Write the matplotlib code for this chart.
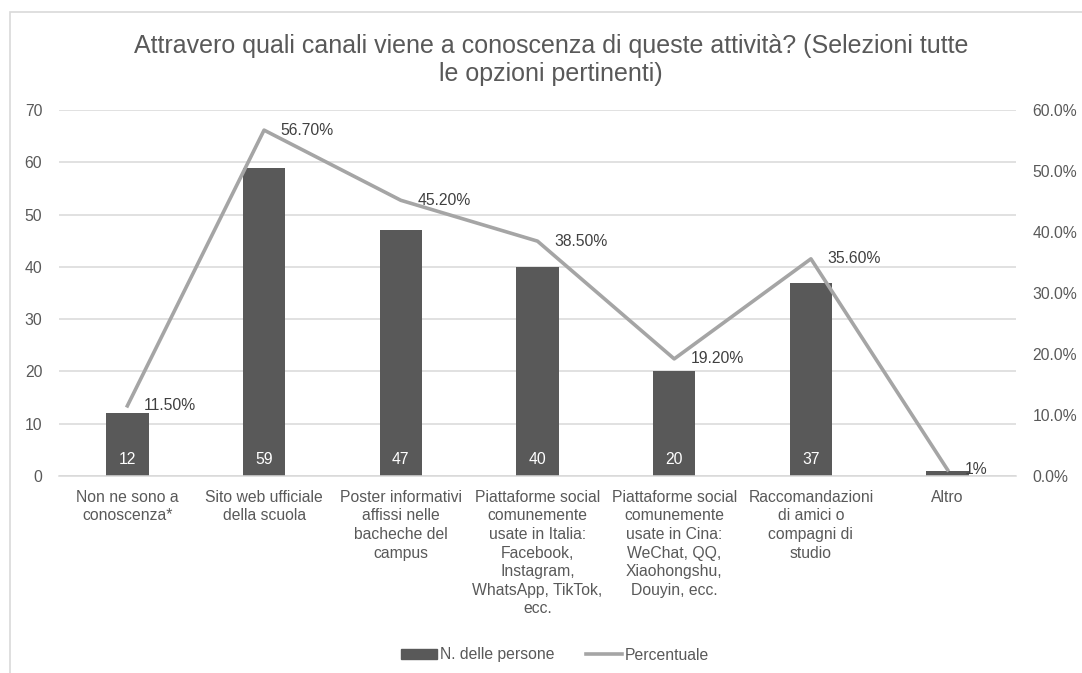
import numpy as np
import matplotlib.pyplot as plt
from matplotlib.patches import Rectangle
from matplotlib.lines import Line2D

plt.rcParams['font.family'] = ['Liberation Sans', 'DejaVu Sans']

# Survey data
categories = [
    'Non ne sono a\nconoscenza*',
    'Sito web ufficiale\ndella scuola',
    'Poster informativi\naffissi nelle\nbacheche del\ncampus',
    'Piattaforme social\ncomunemente\nusate in Italia:\nFacebook,\nInstagram,\nWhatsApp, TikTok,\necc.',
    'Piattaforme social\ncomunemente\nusate in Cina:\nWeChat, QQ,\nXiaohongshu,\nDouyin, ecc.',
    'Raccomandazioni\ndi amici o\ncompagni di\nstudio',
    'Altro',
]
people = [12, 59, 47, 40, 20, 37, 1]
percent = [0.115, 0.567, 0.452, 0.385, 0.192, 0.356, 0.01]
pct_decimals = [2, 2, 2, 2, 2, 2, 0]

bar_color = '#595959'
line_color = '#A5A5A5'
grid_color = '#D9D9D9'
text_color = '#595959'
label_color = '#404040'
fs = 11.3

fig = plt.figure(figsize=(10.82, 6.73), dpi=100)
fig.patches.append(Rectangle((10 / 1082, -0.1), 1.2, 1 - 12 / 673 + 0.1,
                             transform=fig.transFigure, fill=False,
                             edgecolor='#D9D9D9', linewidth=1.2))

ax = fig.add_axes([59 / 1082, 1 - 476 / 673, 957 / 1082, 366 / 673])
ax2 = ax.twinx()

x = np.arange(len(categories))
ax.bar(x, people, width=0.31, color=bar_color, zorder=2)
for xi, v in zip(x, people):
    if v >= 5:
        ax.text(xi, 3.2, str(v), ha='center', va='center', color='white',
                fontsize=fs, zorder=3)

ax2.plot(x, percent, color=line_color, linewidth=2.6, zorder=4)
for xi, p, d in zip(x, percent, pct_decimals):
    ax2.annotate(f'{p * 100:.{d}f}%', (xi, p), xytext=(12, 0),
                 textcoords='offset points', ha='left', va='center',
                 color=label_color, fontsize=fs)

ax.set_xlim(-0.5, len(categories) - 0.5)
ax.set_ylim(0, 70)
ax.set_yticks(range(0, 71, 10))
ax2.set_ylim(0, 0.6)
ax2.set_yticks(np.arange(0, 0.61, 0.1))
ax2.set_yticklabels([f'{t * 100:.1f}%' for t in np.arange(0, 0.61, 0.1)])

ax.set_xticks(x)
ax.set_xticklabels(categories, fontsize=fs, color=text_color,
                   linespacing=1.3, va='top')
ax.tick_params(axis='x', length=0, pad=10)
ax.tick_params(axis='y', length=0, pad=12, labelsize=fs, labelcolor=text_color)
ax2.tick_params(axis='y', length=0, pad=12, labelsize=fs, labelcolor=text_color)

ax.yaxis.grid(True, color=grid_color, linewidth=1.1, zorder=0)
ax.set_axisbelow(True)
for a in (ax, ax2):
    for s in a.spines.values():
        s.set_visible(False)
ax.spines['bottom'].set_visible(True)
ax.spines['bottom'].set_color(grid_color)
ax.spines['bottom'].set_linewidth(1.1)

fig.text(551 / 1082, 1 - 60 / 673,
         'Attravero quali canali viene a conoscenza di queste attività? (Selezioni tutte\nle opzioni pertinenti)',
         ha='center', va='center', fontsize=18, color=text_color,
         linespacing=1.25)

handles = [Rectangle((0, 0), 1, 1, color=bar_color),
           Line2D([0], [0], color=line_color, linewidth=2.6)]
fig.legend(handles, ['N. delle persone', 'Percentuale'],
           loc='center', bbox_to_anchor=(555 / 1082, 1 - 655 / 673), ncol=2,
           frameon=False, fontsize=fs, labelcolor=text_color,
           handlelength=2.3, handletextpad=0.2, columnspacing=2.0,
           handleheight=0.6)

plt.savefig('out.png', dpi=100)
